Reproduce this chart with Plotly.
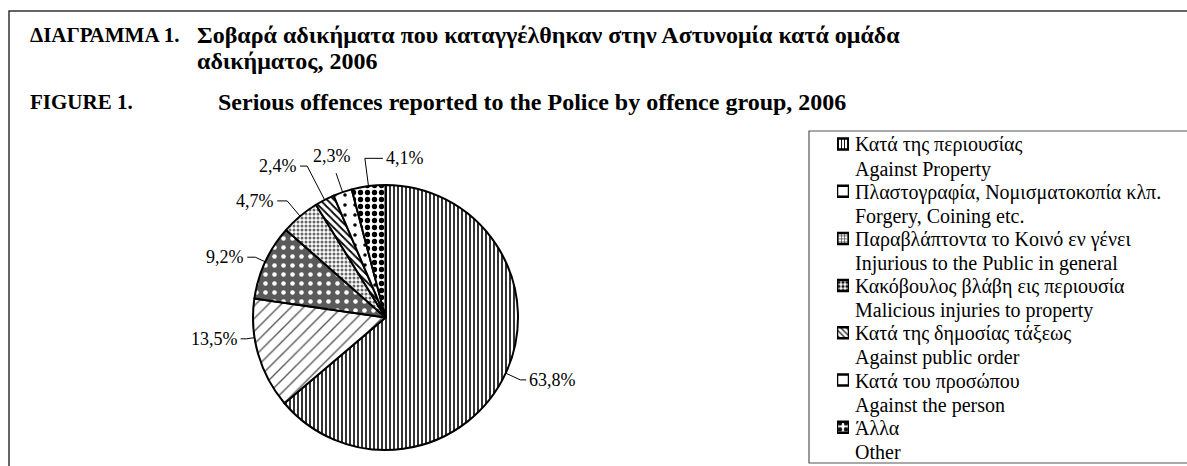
import math
import plotly.graph_objects as go

# ---------------- data ----------------
labels_el = [
    "Κατά της περιουσίας",
    "Πλαστογραφία, Νομισματοκοπία κλπ.",
    "Παραβλάπτοντα το Κοινό εν γένει",
    "Κακόβουλος βλάβη εις περιουσία",
    "Κατά της δημοσίας τάξεως",
    "Κατά του προσώπου",
    "Άλλα",
]
labels_en = [
    "Against Property",
    "Forgery, Coining etc.",
    "Injurious to the Public in general",
    "Malicious injuries to property",
    "Against public order",
    "Against the person",
    "Other",
]
values = [63.8, 13.5, 9.2, 4.7, 2.4, 2.3, 4.1]

title_el_head = "ΔΙΑΓΡΑΜΜΑ 1."
title_el_line1 = "Σοβαρά αδικήματα που καταγγέλθηκαν στην Αστυνομία κατά ομάδα"
title_el_line2 = "αδικήματος, 2006"
title_en_head = "FIGURE 1."
title_en_line = "Serious offences reported to the Police by offence group, 2006"

# ---------------- styles ----------------
pat_shapes = ["|", "/", ".", ".", "\\", ".", "."]
pat_fg = ["#000000", "#555555", "#ffffff", "#666666", "#000000", "#000000", "#000000"]
pat_bg = ["#ffffff", "#ffffff", "#5a5a5a", "#ffffff", "#ffffff", "#ffffff", "#ffffff"]
pat_size = [4, 9, 9, 4, 5, 10, 7]
pat_solid = [0.4, 0.15, 0.2, 0.45, 0.35, 0.1, 0.45]
# legend symbol styles
sym_shapes = ["|", "", "+", ".", "\\", ".", "."]
sym_fg = ["#ffffff", "#000000", "#ffffff", "#ffffff", "#ffffff", "#000000", "#ffffff"]
sym_bg = ["#111111", "#ffffff", "#444444", "#111111", "#111111", "#ffffff", "#111111"]
sym_size = [3, 4, 3, 4, 4, 10, 6]
sym_solid = [0.35, 0.3, 0.4, 0.5, 0.3, 0.25, 0.45]

label_side = ["right", "left", "left", "left", "left", "top", "right"]
label_frac = [0.5, 0.65, 0.5, 0.5, 0.5, 0.5, 0.5]
leader_len = [16, 8, 11, 20, 38, 20, 28]
leader_tail = [6, 6, 8, 10, 7, 0, 18]

W, H = 1187, 466
CX, CY, R = 385.5, 317.5, 132.5
FONT = "Liberation Serif"
LEG_X_SYM0, LEG_X_SYM1 = 837, 849
LEG_TEXT_X = 853
LEG_ROW0, LEG_ROW_STEP, LEG_LINE2 = 145, 47.2, 24


def px(x):
    return x / W


def py(y):
    return 1 - y / H


fig = go.Figure()
fig.add_trace(go.Pie(
    labels=[f"{a} / {b}" for a, b in zip(labels_el, labels_en)],
    values=values,
    sort=False,
    direction="clockwise",
    rotation=0,
    textinfo="none",
    hoverinfo="label+percent",
    showlegend=False,
    marker=dict(
        colors=pat_bg,
        line=dict(color="#000000", width=2),
        pattern=dict(shape=pat_shapes, fgcolor=pat_fg, bgcolor=pat_bg,
                     size=pat_size, solidity=pat_solid, fillmode="replace"),
    ),
    domain=dict(x=[px(CX - R), px(CX + R)], y=[py(CY + R), py(CY - R)]),
))

# legend symbols: small patterned bars, one per category row
n = len(values)
fig.add_trace(go.Bar(
    x=[1] * n, y=list(range(n)), orientation="h", base=0,
    width=11 / LEG_ROW_STEP,
    marker=dict(color=sym_bg, line=dict(color="#000000", width=2.5),
                pattern=dict(shape=sym_shapes, fgcolor=sym_fg, bgcolor=sym_bg,
                             size=sym_size, solidity=sym_solid, fillmode="replace")),
    hoverinfo="skip", showlegend=False,
))

shapes = []
annotations = []

# outer frame and legend box
shapes.append(dict(type="rect", xref="paper", yref="paper",
                   x0=px(9), x1=px(1200), y0=py(480), y1=py(11),
                   line=dict(color="#333333", width=1.5)))
shapes.append(dict(type="rect", xref="paper", yref="paper",
                   x0=px(809), x1=px(1200), y0=py(463), y1=py(131),
                   line=dict(color="#555555", width=1.2)))

# legend texts
for i, (a, b) in enumerate(zip(labels_el, labels_en)):
    yy = LEG_ROW0 + LEG_ROW_STEP * i
    for txt, yl in [(a, yy), (b, yy + LEG_LINE2)]:
        annotations.append(dict(x=px(LEG_TEXT_X), y=py(yl), xref="paper", yref="paper",
                                text=txt, showarrow=False, xanchor="left", yanchor="middle",
                                font=dict(family=FONT, size=20, color="#000")))

# data labels with leader lines (computed from the slice angles)
total = sum(values)
cum = 0.0
for v, side, frac, L, tail in zip(values, label_side, label_frac, leader_len, leader_tail):
    a0 = cum / total * 360.0
    cum += v
    a1 = cum / total * 360.0
    ang_cw = a0 + (a1 - a0) * frac          # clockwise from 12 o'clock
    theta = math.radians(90 - ang_cw)
    ux, uy = math.cos(theta), -math.sin(theta)
    ex, ey = CX + R * ux, CY + R * uy
    bx, by = ex + L * ux, ey + L * uy
    txt = f"{v:.1f}%".replace(".", ",")
    if side == "top":
        path = f"M{px(ex)},{py(ey)} L{px(bx)},{py(by)}"
        annotations.append(dict(x=px(bx - 4), y=py(by - 5), xref="paper", yref="paper",
                                text=txt, showarrow=False, xanchor="center", yanchor="bottom",
                                font=dict(family=FONT, size=18, color="#000")))
    else:
        s = 1 if side == "right" else -1
        tx = bx + s * tail
        path = f"M{px(ex)},{py(ey)} L{px(bx)},{py(by)} L{px(tx)},{py(by)}"
        annotations.append(dict(x=px(tx + s * 1), y=py(by), xref="paper", yref="paper",
                                text=txt, showarrow=False,
                                xanchor="left" if s > 0 else "right", yanchor="middle",
                                font=dict(family=FONT, size=18, color="#000")))
    shapes.append(dict(type="path", xref="paper", yref="paper", path=path,
                       line=dict(color="#000000", width=1)))

# titles
for txt, x, y, fs in [(title_el_head, 28, 35, 21), (title_el_line1, 195, 35, 24),
                      (title_el_line2, 195, 61, 24), (title_en_head, 28, 101.5, 21),
                      (title_en_line, 216, 101.5, 24)]:
    annotations.append(dict(x=px(x), y=py(y), xref="paper", yref="paper", text=f"<b>{txt}</b>",
                            showarrow=False, xanchor="left", yanchor="middle",
                            font=dict(family=FONT, size=fs, color="#000")))

sym_top = LEG_ROW0 - 1 - LEG_ROW_STEP / 2
sym_bot = sym_top + LEG_ROW_STEP * n
fig.update_layout(
    width=W, height=H,
    margin=dict(l=0, r=0, t=0, b=0, pad=0, autoexpand=False),
    paper_bgcolor="#ffffff",
    plot_bgcolor="rgba(0,0,0,0)",
    showlegend=False,
    xaxis=dict(domain=[px(LEG_X_SYM0), px(LEG_X_SYM1)], range=[0, 1], visible=False,
               fixedrange=True),
    yaxis=dict(domain=[py(sym_bot), py(sym_top)], range=[n - 0.5, -0.5], visible=False,
               fixedrange=True),
    shapes=shapes,
    annotations=annotations,
)

fig.write_html("out.html", config={"displayModeBar": False},
               post_script="document.body.style.margin='0px';")
